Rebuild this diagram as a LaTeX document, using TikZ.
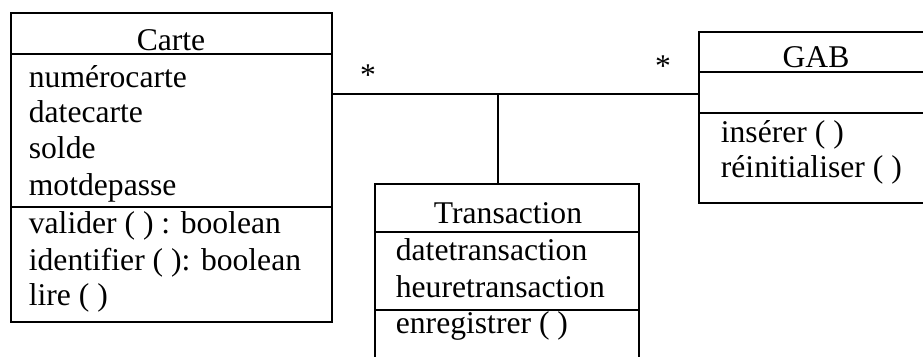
\documentclass[tikz,border=0pt]{standalone}
\usepackage{fontspec}
\setmainfont{Liberation Serif}

\begin{document}
\begin{tikzpicture}[x=0.02cm,y=-0.02cm,line width=1pt,
  classe/.style={draw,anchor=north west,inner sep=0pt},
  txt/.style={anchor=base west,inner sep=0pt,font=\fontsize{18pt}{20pt}\selectfont},
  titre/.style={txt,anchor=base}]
\useasboundingbox (0,0) rectangle (923,356);
\clip (0,0) rectangle (923,356);
% classes
\node[classe,minimum width=6.42cm,minimum height=6.18cm] (carte) at (10,12) {};
\node[classe,minimum width=5.28cm,minimum height=4.6cm] (trans) at (374,183) {};
\node[classe,minimum width=4.72cm,minimum height=3.42cm] (gab) at (698,31) {};
% compartiments
\foreach \c/\y in {carte/54, carte/207, trans/232, trans/310, gab/72, gab/113}
  \draw (\c.west |- 0,\y) -- (\c.east |- 0,\y);
\node[titre] (carte-nom) at (171,50) {Carte};
\node[titre] (trans-nom) at (508,223) {Transaction};
\node[titre] (gab-nom) at (816,67) {GAB};
\foreach \y/\t [count=\i] in {87/numérocarte, 122/datecarte, 158/solde, 195/motdepasse,
    233/valider ( ) : boolean, 270/identifier ( ): boolean, 305/lire ( )}
  \node[txt] (carte-\i) at (28,\y) {\t};
\foreach \y/\t [count=\i] in {260/datetransaction, 297/heuretransaction, 333/enregistrer ( )}
  \node[txt] (trans-\i) at (395,\y) {\t};
\foreach \y/\t [count=\i] in {142/insérer ( ), 177/réinitialiser ( )}
  \node[txt] (gab-\i) at (720,\y) {\t};
% association
\coordinate (lien) at (498,94);
\draw (carte.east |- lien) -- (gab.west |- lien);
\draw (lien) -- (lien |- trans.north);
\node[titre] (mult-carte) at (368,85) {*};
\node[titre] (mult-gab) at (663,76) {*};
\end{tikzpicture}
\end{document}
